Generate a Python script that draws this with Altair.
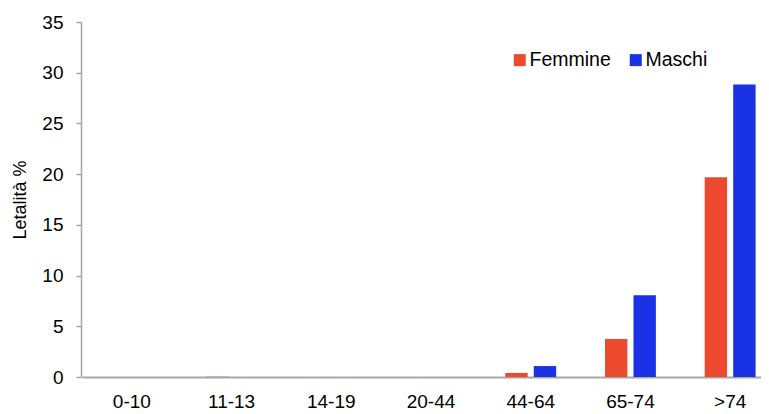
import altair as alt
import pandas as pd

age_groups = ["0-10", "11-13", "14-19", "20-44", "44-64", "65-74", ">74"]
femmine = [0.0, 0.03, 0.0, 0.0, 0.4, 3.75, 19.7]
maschi = [0.0, 0.0, 0.0, 0.0, 1.08, 8.05, 28.85]
sexes = ["Femmine", "Maschi"]
colors = ["#EB4A2E", "#1A32E6"]

df = pd.concat(
    [
        pd.DataFrame({"eta": age_groups, "sesso": "Femmine", "letalita": femmine}),
        pd.DataFrame({"eta": age_groups, "sesso": "Maschi", "letalita": maschi}),
    ]
)

font = "Liberation Sans"
grey = "#A6A6A6"

chart = (
    alt.Chart(df)
    .mark_bar()
    .encode(
        x=alt.X(
            "eta:N",
            sort=age_groups,
            scale=alt.Scale(range=[1, 699], paddingInner=0, paddingOuter=0),
            axis=alt.Axis(
                title=None,
                labelAngle=0,
                ticks=False,
                labelPadding=15,
                labelFontSize=19,
                labelColor="#000000",
                domainColor=grey,
                domainWidth=2,
            ),
        ),
        xOffset=alt.XOffset(
            "sesso:N",
            sort=sexes,
            scale=alt.Scale(paddingInner=0.214, paddingOuter=0.856),
        ),
        y=alt.Y(
            "letalita:Q",
            scale=alt.Scale(domain=[0, 35]),
            axis=alt.Axis(
                title="Letalità %",
                values=[0, 5, 10, 15, 20, 25, 30, 35],
                grid=False,
                tickSize=5,
                tickColor=grey,
                tickWidth=1.5,
                domainColor=grey,
                domainWidth=1.5,
                labelPadding=13,
                labelFontSize=19,
                labelColor="#000000",
                titleFontSize=18,
                titleFontWeight="normal",
                titleColor="#000000",
                titlePadding=12,
            ),
        ),
        color=alt.Color(
            "sesso:N",
            sort=sexes,
            scale=alt.Scale(domain=sexes, range=colors),
            legend=alt.Legend(
                title=None,
                orient="none",
                legendX=429,
                legendY=28,
                direction="horizontal",
                symbolType="square",
                symbolSize=144,
                symbolStrokeWidth=0,
                labelFontSize=19.5,
                labelColor="#000000",
                labelOffset=0,
                columnPadding=15,
                padding=0,
            ),
        ),
    )
    .properties(
        # page is 769 wide with an 8px margin: keep the svg at 753px
        width=680,
        height=355,
        autosize=alt.AutoSizeParams(type="none"),
        padding={"left": 73, "top": 14, "right": 0, "bottom": 37},
    )
    .configure(font=font)
    .configure_view(stroke=None)
)

chart.save("out.html", embed_options={"renderer": "svg", "actions": False})
